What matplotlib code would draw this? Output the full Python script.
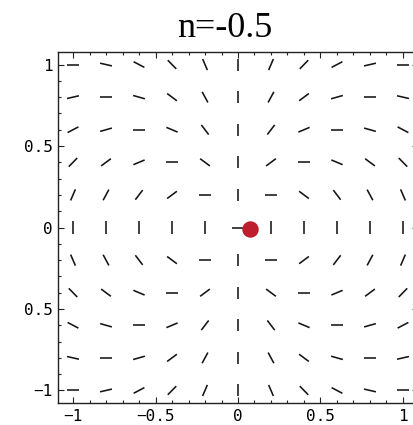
import numpy as np
import matplotlib
matplotlib.use("Agg")
import matplotlib.pyplot as plt
from matplotlib.collections import LineCollection

# grid of sample points
x_vals = [-1.0, -0.8, -0.6, -0.4, -0.2, 0.0, 0.2, 0.4, 0.6, 0.8, 1.0]
y_vals = [1.0, 0.8, 0.6, 0.4, 0.2, 0.0, -0.2, -0.4, -0.6, -0.8, -1.0]

# line orientation in degrees, one row per y value (top to bottom)
angles = [
    [0, -13, -28, -46, -67, 90, 67, 46, 28, 13, 0],
    [13, 0, -16, -37, -62, 90, 62, 37, 16, 0, -13],
    [28, 16, 0, -23, -53, 90, 53, 23, 0, -16, -28],
    [46, 37, 23, 0, -37, 90, 37, 0, -23, -37, -46],
    [67, 62, 53, 37, 0, 90, 0, -37, -53, -62, -67],
    [90, 90, 90, 90, 90, 0, 90, 90, 90, 90, 90],
    [-67, -62, -53, -37, 0, 90, 0, 37, 53, 62, 67],
    [-46, -37, -23, 0, 37, 90, -37, 0, 23, 37, 46],
    [-28, -16, 0, 23, 53, 90, -53, -23, 0, 16, 28],
    [-13, 0, 16, 37, 62, 90, -62, -37, -16, 0, 13],
    [0, 13, 28, 46, 67, 90, -67, -46, -28, -13, 0],
]

n_value = -0.5
dot_x, dot_y = 0.07, -0.01

x_ticks = [-1, -0.5, 0, 0.5, 1]
x_ticklabels = ["\u22121", "\u22120.5", "0", "0.5", "1"]
y_ticks = [-1, -0.5, 0, 0.5, 1]
y_ticklabels = ["\u22121", "0.5", "0", "0.5", "1"]

W, H = 414, 425
fig = plt.figure(figsize=(W / 100, H / 100), dpi=100)
ax = fig.add_axes([58 / W, (H - 403) / H, 360 / W, 351 / H])
ax.set_xlim(-1.091, 1.091)
ax.set_ylim(-1.077, 1.077)

half = 0.037
segs = []
for j, yv in enumerate(y_vals):
    for i, xv in enumerate(x_vals):
        t = np.deg2rad(angles[j][i])
        dx, dy = half * np.cos(t), half * np.sin(t)
        segs.append([(xv - dx, yv - dy), (xv + dx, yv + dy)])
ax.add_collection(LineCollection(segs, colors="#151515", linewidths=1.15,
                                 capstyle="butt"))

ax.scatter([dot_x], [dot_y], s=140, color="#BE1E2D", zorder=5, linewidths=0)

ax.set_xticks(x_ticks)
ax.set_xticklabels(x_ticklabels)
ax.set_yticks(y_ticks)
ax.set_yticklabels(y_ticklabels)
ax.set_xticks(np.arange(-1.0, 1.05, 0.1), minor=True)
ax.set_yticks(np.arange(-1.0, 1.05, 0.1), minor=True)
ax.tick_params(which="both", direction="in", top=True, right=True,
               color="#222222", width=0.8)
ax.tick_params(which="major", length=4, pad=4)
ax.tick_params(which="minor", length=2)
for lab in ax.get_xticklabels() + ax.get_yticklabels():
    lab.set_family("DejaVu Sans Mono")
    lab.set_fontsize(11.5)
for sp in ax.spines.values():
    sp.set_linewidth(1.0)
    sp.set_color("#222222")

fig.text(225 / W, 1 - 37 / H, f"n={n_value}", ha="center", va="baseline",
         family="Liberation Serif", fontsize=26)

fig.savefig("out.png", dpi=100)
